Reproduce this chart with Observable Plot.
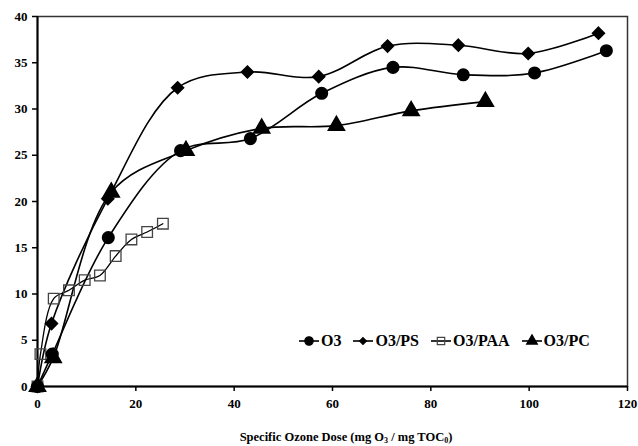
<!DOCTYPE html>
<html><head><meta charset="utf-8">
<script src="https://cdn.jsdelivr.net/npm/d3@7"></script>
<script src="https://cdn.jsdelivr.net/npm/@observablehq/plot@0.6"></script>
<style>
body{margin:0;background:#fff;}
#wrap{position:relative;width:638px;height:446px;font-family:"Liberation Serif","Times New Roman",serif;font-weight:bold;color:#000;}
#legend{position:absolute;left:299px;top:332px;display:flex;align-items:center;font-size:16px;white-space:nowrap;}
#legend .item{display:flex;align-items:center;margin-right:12px;}
#legend svg{margin-right:2px;}
#xlabel{position:absolute;left:14px;width:664px;top:430px;text-align:center;font-size:12.5px;}
#xlabel sub{font-size:8px;vertical-align:-2px;line-height:0;}
</style></head><body><div id="wrap"></div>
<script>
const seriesNames = ["O3", "O3/PS", "O3/PAA", "O3/PC"];
const o3X  = [0, 3.0, 14.4, 29.1, 43.3, 57.8, 72.3, 86.6, 101.1, 115.7];
const o3Y  = [0, 3.5, 16.1, 25.5, 26.8, 31.7, 34.5, 33.7, 33.9, 36.3];
const psX  = [0, 2.85, 14.3, 28.5, 42.7, 57.2, 71.2, 85.6, 99.8, 114.1];
const psY  = [0, 6.8, 20.3, 32.3, 34.0, 33.5, 36.8, 36.9, 36.0, 38.2];
const paaX = [0, 0.6, 3.3, 6.4, 9.6, 12.7, 15.9, 19.1, 22.3, 25.5];
const paaY = [0, 3.5, 9.5, 10.4, 11.5, 12.0, 14.1, 15.9, 16.7, 17.6];
const pcX  = [0, 3.2, 15.0, 30.2, 45.6, 60.8, 76.0, 91.1];
const pcY  = [0, 3.1, 21.0, 25.5, 27.9, 28.2, 29.8, 30.8];
const xTicks = [0, 20, 40, 60, 80, 100, 120];
const yTicks = [0, 5, 10, 15, 20, 25, 30, 35, 40];

const toRows = (xs, ys, s) => xs.map((x, i) => ({x, y: ys[i], s}));
const o3 = toRows(o3X, o3Y, seriesNames[0]);
const ps = toRows(psX, psY, seriesNames[1]);
const paa = toRows(paaX, paaY, seriesNames[2]);
const pc = toRows(pcX, pcY, seriesNames[3]);

const lineOpts = {x: "x", y: "y", curve: "catmull-rom", stroke: "#000", strokeWidth: 1.6};

const chart = Plot.plot({
  width: 638, height: 446,
  marginLeft: 37, marginRight: 11, marginTop: 16, marginBottom: 60,
  style: {fontFamily: "'Liberation Serif','Times New Roman',serif", fontWeight: "bold", fontSize: "13px", color: "#000", background: "#fff"},
  x: {domain: [0, 120]},
  y: {domain: [0, 40]},
  marks: [
    Plot.frame({stroke: "#333", strokeWidth: 1.5}),
    Plot.axisY({ticks: yTicks, tickSize: 5, tickPadding: 5, label: null, strokeWidth: 1.5}),
    Plot.axisX({ticks: xTicks, tickSize: 5, tickPadding: 7, label: null, strokeWidth: 1.5}),
    Plot.ruleX([0], {stroke: "#000", strokeWidth: 2}),
    Plot.ruleY([0], {stroke: "#000", strokeWidth: 2}),
    Plot.line(paa, {...lineOpts, strokeWidth: 1.3}),
    Plot.line(o3, lineOpts),
    Plot.line(ps, lineOpts),
    Plot.line(pc, lineOpts),
    Plot.dot(paa, {x: "x", y: "y", symbol: "square", r: 6, fill: "none", stroke: "#444", strokeWidth: 1.3}),
    Plot.dot(o3, {x: "x", y: "y", symbol: "circle", r: 5.8, fill: "#000", stroke: "#000"}),
    Plot.dot(ps, {x: "x", y: "y", symbol: "diamond2", r: 5.4, fill: "#000", stroke: "#000"}),
    Plot.dot(pc, {x: "x", y: "y", symbol: "triangle", r: 6, fill: "#000", stroke: "#000"})
  ]
});

const wrap = document.getElementById("wrap");
wrap.appendChild(chart);

// legend
const legendSymbols = [
  {name: seriesNames[0], sym: d3.symbolCircle, size: 55, fill: "#000", stroke: "#000"},
  {name: seriesNames[1], sym: d3.symbolDiamond2, size: 30, fill: "#000", stroke: "#000"},
  {name: seriesNames[2], sym: d3.symbolSquare, size: 55, fill: "none", stroke: "#444"},
  {name: seriesNames[3], sym: d3.symbolTriangle, size: 50, fill: "#000", stroke: "#000"}
];
const legend = document.createElement("div");
legend.id = "legend";
legendSymbols.forEach(d => {
  const item = document.createElement("div");
  item.className = "item";
  const path = d3.symbol(d.sym, d.size)();
  item.innerHTML = `<svg width="20" height="14" viewBox="-10 -7 20 14"><line x1="-10" x2="10" y1="0" y2="0" stroke="#000" stroke-width="1.6"/><path d="${path}" fill="${d.fill}" stroke="${d.stroke}" stroke-width="1.2"/></svg><span>${d.name}</span>`;
  legend.appendChild(item);
});
wrap.appendChild(legend);

const xl = document.createElement("div");
xl.id = "xlabel";
xl.innerHTML = "Specific Ozone Dose (mg O<sub>3</sub> / mg TOC<sub>0</sub>)";
wrap.appendChild(xl);
</script>
</body></html>
